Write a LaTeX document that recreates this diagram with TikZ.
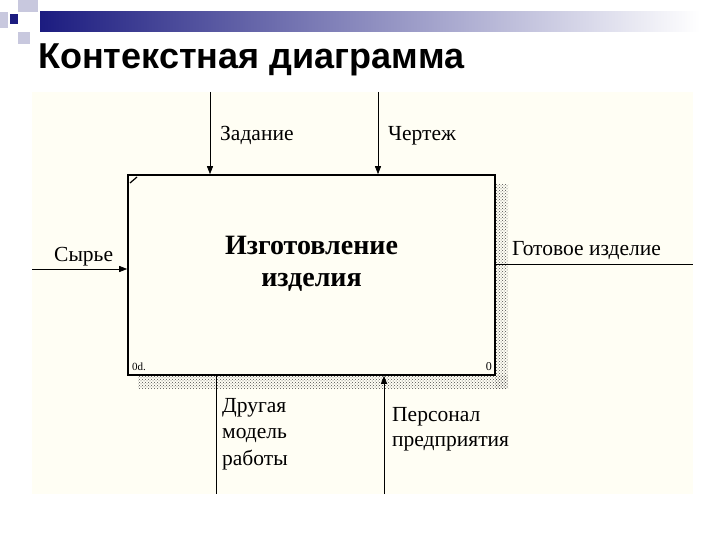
\documentclass[tikz,border=0pt]{standalone}
\usepackage{fontspec}
\setmainfont{Liberation Serif}
\newfontfamily\arialf{Liberation Sans}
\usetikzlibrary{arrows.meta,patterns}
\definecolor{cream}{HTML}{FFFEF4}
\definecolor{navy}{HTML}{1C1C80}
\definecolor{lightsq}{HTML}{C8C8DE}
\begin{document}
\begin{tikzpicture}[x=1pt,y=-1pt,
  lbl/.style={anchor=base west,font=\fontsize{21.5}{26}\selectfont,inner sep=0pt,align=left},
  arr/.style={line width=0.8pt,-{Triangle[length=8pt,width=6pt]}},
  ln/.style={line width=0.8pt}]
\useasboundingbox (0,0) rectangle (720,540);
\fill[white] (0,0) rectangle (720,540);
% header decoration
\shade[left color=navy,right color=white] (40,12) rectangle (700,32);
\fill[lightsq] (18,0) rectangle (38,12);
\fill[lightsq] (0,12) rectangle (8,28);
\fill[lightsq] (18,32) rectangle (30,44);
\fill[navy] (10,14) rectangle (18,24);
\node[anchor=west,font=\arialf\bfseries\fontsize{36}{40}\selectfont,inner sep=0pt] (title) at (38,60) {Контекстная диаграмма};
% diagram area
\fill[cream] (32,92) rectangle (693,494);
\fill[pattern=crosshatch dots,pattern color=black!70] (495,185) rectangle (508,388);
\fill[pattern=crosshatch dots,pattern color=black!70] (138,375) rectangle (508,388);
\node[draw,line width=1.6pt,fill=cream,minimum width=367pt,minimum height=200pt,inner sep=0pt] (box) at (311.5,275) {};
\node[font=\bfseries\fontsize{28}{32}\selectfont,align=center] (boxtext) at (311.5,264) {Изготовление\\изделия};
\draw[line width=1.2pt] (130,183) -- (137,177);
\node[anchor=south west,font=\fontsize{11}{12}\selectfont,inner sep=1pt] (nd) at (131,372) {0d.};
\node[anchor=south east,font=\fontsize{12}{12}\selectfont,inner sep=1pt] (n0) at (493,372) {0};
% connectors
\coordinate (t1) at (210,92); \coordinate (t2) at (378,92);
\coordinate (l1) at (32,269); \coordinate (r1) at (693,264);
\coordinate (b1) at (216,494); \coordinate (b2) at (384,494);
\draw[arr] (t1) -- (t1 |- box.north);
\draw[arr] (t2) -- (t2 |- box.north);
\draw[arr] (l1) -- (l1 -| box.west);
\draw[ln] (r1 -| box.east) -- (r1);
\draw[ln] (b1 |- box.south) -- (b1);
\draw[arr] (b2) -- (b2 |- box.south);
% labels
\node[lbl] (la) at (220,141) {Задание};
\node[lbl] (lb) at (388,141) {Чертеж};
\node[lbl] (lc) at (54,261) {Сырье};
\node[lbl] (ld) at (512,255) {Готовое изделие};
\node[lbl,anchor=north west,font=\fontsize{21.5}{26.5}\selectfont] (le) at (222,398) {Другая\\модель\\работы};
\node[lbl,anchor=north west,font=\fontsize{21.5}{25.5}\selectfont] (lf) at (392,407) {Персонал\\предприятия};
\end{tikzpicture}
\end{document}
